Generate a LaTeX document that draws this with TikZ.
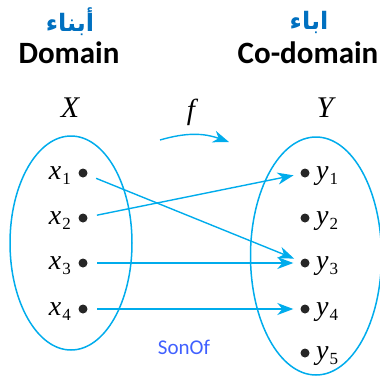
\documentclass[tikz,border=0pt]{standalone}
\usepackage{fontspec}
\setmainfont{Liberation Serif}
\newfontfamily\carlito{Carlito}
\newfontfamily\arabicfont[Script=Arabic]{DejaVu Sans}
\TeXXeTstate=1
\usetikzlibrary{arrows.meta,shapes.geometric}
\definecolor{lineblue}{RGB}{0,172,236}
\definecolor{arblue}{RGB}{0,112,192}
\definecolor{sonblue}{RGB}{64,96,255}
\newcommand{\vlab}[2]{\textit{#1}\kern1pt\raisebox{-5pt}{\fontsize{17}{17}\selectfont #2}}
\tikzset{
  setshape/.style={draw=lineblue, line width=1.5pt, ellipse, inner sep=0pt},
  pt/.style={circle, fill=black!85, minimum size=9pt, inner sep=0pt},
  elab/.style={inner sep=0pt, font=\fontsize{28}{28}\selectfont},
  conn/.style={draw=lineblue, line width=1.4pt, -{Stealth[length=16pt,width=12pt,inset=5pt]}},
  title/.style={inner sep=0pt, font=\carlito\bfseries\fontsize{31}{31}\selectfont},
  artitle/.style={inner sep=0pt, text=arblue, font=\arabicfont\bfseries\fontsize{24}{24}\selectfont},
}
\begin{document}
\begin{tikzpicture}[x=1pt,y=-1pt]
\useasboundingbox (0,0) rectangle (380,376);
% titles
\node[artitle] (ar1) at (70,22) {\beginR أبناء\endR};
\node[artitle] (ar2) at (309,22) {\beginR اباء\endR};
\node[title, anchor=base] (dom) at (69,63) {Domain};
\node[title, anchor=base] (codom) at (308,63) {Co-domain};
\node[inner sep=0pt, anchor=base, font=\itshape\fontsize{30}{30}\selectfont] (Xl) at (70,117) {X};
\node[inner sep=0pt, anchor=base, font=\itshape\fontsize{30}{30}\selectfont] (Yl) at (325,117) {Y};
\node[inner sep=0pt, anchor=base, font=\itshape\fontsize{29}{29}\selectfont] (fl) at (191,119) {f};
% sets
\node[setshape, minimum width=122pt, minimum height=214pt] (SX) at (71,243) {};
\node[setshape, minimum width=131pt, minimum height=238pt] (SY) at (316,256) {};
% points
\node[pt] (x1) at (83,173) {};
\node[pt] (x2) at (83,218) {};
\node[pt] (x3) at (83,263) {};
\node[pt] (x4) at (83,309) {};
\node[pt] (y1) at (305,173) {};
\node[pt] (y2) at (305,218) {};
\node[pt] (y3) at (305,263) {};
\node[pt] (y4) at (305,309) {};
\node[pt] (y5) at (305,353) {};
% labels
\foreach \i in {1,2,3,4}{
  \node[elab, anchor=base east] at ([xshift=-12pt,yshift=-6pt]x\i.center) {\vlab{x}{\i}};
}
\foreach \i in {1,2,3,4,5}{
  \node[elab, anchor=base west] at ([xshift=11pt,yshift=-6pt]y\i.center) {\vlab{y}{\i}};
}
% mapping arrows
\draw[conn, shorten <=9.5pt, shorten >=7pt] (x1) -- (y3);
\draw[conn, shorten <=9.5pt, shorten >=7pt] (x2) -- (y1);
\draw[conn, shorten <=9.5pt, shorten >=7pt] (x3) -- (y3);
\draw[conn, shorten <=9.5pt, shorten >=7pt] (x4) -- (y4);
% f arrow
\coordinate (fs) at (160,140);
\coordinate (fe) at (229,142);
\draw[conn] (fs) to[bend left=18] (fe);
% SonOf
\node[inner sep=0pt, text=sonblue, font=\carlito\fontsize{21}{21}\selectfont] (son) at (184,347) {SonOf};
\end{tikzpicture}
\end{document}
